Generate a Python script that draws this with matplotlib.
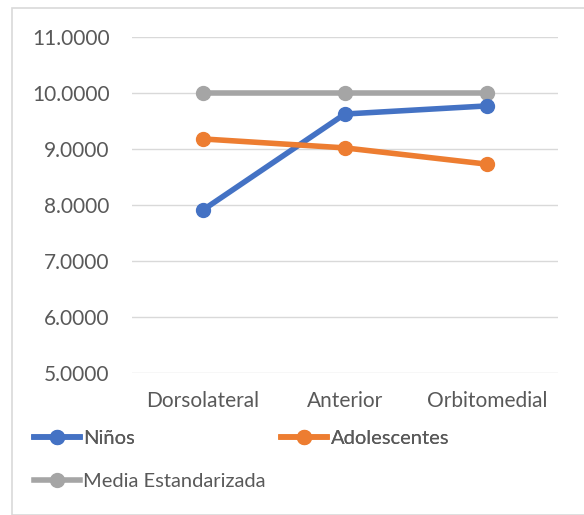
import matplotlib.pyplot as plt
from matplotlib.patches import Rectangle

categories = ['Dorsolateral', 'Anterior', 'Orbitomedial']
ninos = [7.91, 9.625, 9.77]
adolescentes = [9.18, 9.02, 8.73]
media = [10.0, 10.0, 10.0]
yticks = [5, 6, 7, 8, 9, 10, 11]

plt.rcParams['font.family'] = ['Lato', 'DejaVu Sans']

fig = plt.figure(figsize=(5.84, 5.15), dpi=100)
ax = fig.add_axes([0.226, 0.276, 0.729, 0.652])

x = range(len(categories))
l1, = ax.plot(x, ninos, color='#4472C4', lw=4, marker='o', ms=10, label='Niños', zorder=3)
l2, = ax.plot(x, adolescentes, color='#ED7D31', lw=4, marker='o', ms=10, label='Adolescentes', zorder=3)
l3, = ax.plot(x, media, color='#A5A5A5', lw=4, marker='o', ms=10, label='Media Estandarizada', zorder=2)

ax.set_xlim(-0.5, 2.5)
ax.set_ylim(5, 11)
ax.set_yticks(yticks)
ax.set_yticklabels(['%.4f' % v for v in yticks])
ax.set_xticks(list(x))
ax.set_xticklabels(categories)
ax.tick_params(length=0, labelsize=15, colors='#595959', pad=13)
ax.tick_params(axis='y', pad=16)
ax.grid(axis='y', color='#D9D9D9', lw=1)
ax.set_axisbelow(True)
for s in ax.spines.values():
    s.set_visible(False)

fig.patches.append(Rectangle((12 / 584, 0), 1, 1 - 8 / 515, transform=fig.transFigure,
                             fill=False, edgecolor='#D9D9D9', lw=1.2))

leg_kw = dict(loc='center left', frameon=False, fontsize=14.5, labelcolor='#595959',
              handlelength=2.3, handletextpad=0.15, borderpad=0)
leg1 = fig.legend([l1, l2], ['Niños', 'Adolescentes'], ncol=2, columnspacing=7.25,
                  bbox_to_anchor=(0.041, 0.1495), **leg_kw)
fig.add_artist(leg1)
fig.legend([l3], ['Media Estandarizada'], bbox_to_anchor=(0.041, 0.066), **leg_kw)

fig.savefig('out.png', dpi=100)
